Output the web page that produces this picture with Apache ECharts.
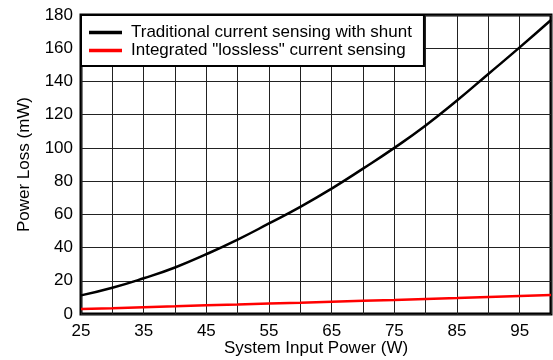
<!DOCTYPE html>
<html>
<head>
<meta charset="utf-8">
<script src="https://cdn.jsdelivr.net/npm/echarts@6/dist/echarts.min.js"></script>
<style>
  html, body { margin: 0; padding: 0; background: #fff; }
  #chart { width: 553px; height: 360px; }
</style>
</head>
<body>
<div id="chart"></div>
<script>
// x = system input power (W), y = power loss (mW)
const inputPower = [25, 30, 35, 40, 45, 50, 55, 60, 65, 70, 75, 80, 85, 90, 95, 100];
const shuntLoss = [11.2, 15.8, 21.5, 28, 36, 44.8, 54.5, 64.5, 75.5, 87.5, 100, 113.5, 128.5, 144.5, 160.5, 177];
const losslessLoss = [3.0, 3.5, 4.1, 4.6, 5.2, 5.7, 6.3, 6.8, 7.4, 8.0, 8.5, 9.1, 9.6, 10.2, 10.8, 11.4];

const FONT = 'Liberation Sans, Arial, sans-serif';
const chart = echarts.init(document.getElementById('chart'));

chart.setOption({
  animation: false,
  textStyle: { fontFamily: FONT },
  grid: {
    left: 81, right: 2, top: 15, bottom: 46,
    outerBoundsMode: 'none',
    show: true, borderColor: '#000', borderWidth: 3
  },
  legend: {
    orient: 'vertical',
    left: 81,
    top: 15,
    padding: [9, 12, 7, 8],
    itemGap: 1,
    itemWidth: 33,
    itemHeight: 14,
    backgroundColor: '#fff',
    borderColor: '#000',
    borderWidth: 2,
    textStyle: { fontSize: 17, lineHeight: 17, color: '#000', fontFamily: FONT, padding: [0, 0, 0, 4] },
    data: [
      { name: 'Traditional current sensing with shunt', icon: 'path://M0,0L10,0L10,1L0,1Z' },
      { name: 'Integrated "lossless" current sensing', icon: 'path://M0,0L10,0L10,1L0,1Z' }
    ]
  },
  xAxis: {
    type: 'value',
    min: 25,
    max: 100,
    interval: 5,
    name: 'System Input Power (W)',
    nameLocation: 'middle',
    nameGap: 26,
    nameMoveOverlap: false,
    nameTextStyle: { fontSize: 17, color: '#000' },
    axisLine: { show: false },
    axisTick: { show: false },
    axisLabel: {
      fontSize: 17,
      color: '#000',
      margin: 9,
      formatter: v => (v % 10 === 5 ? String(v) : '')
    },
    splitLine: { show: true, lineStyle: { color: '#222', width: 1 } }
  },
  yAxis: {
    type: 'value',
    min: 0,
    max: 180,
    interval: 20,
    name: 'Power Loss (mW)',
    nameLocation: 'middle',
    nameGap: 48,
    nameMoveOverlap: false,
    nameTextStyle: { fontSize: 17, color: '#000' },
    axisLine: { show: false },
    axisTick: { show: false },
    axisLabel: { fontSize: 17, color: '#000', margin: 8 },
    splitLine: { show: true, lineStyle: { color: '#222', width: 1 } }
  },
  series: [
    {
      name: 'Traditional current sensing with shunt',
      type: 'line',
      data: inputPower.map((x, i) => [x, shuntLoss[i]]),
      smooth: true,
      showSymbol: false,
      lineStyle: { color: '#000', width: 2.5 },
      itemStyle: { color: '#000' }
    },
    {
      name: 'Integrated "lossless" current sensing',
      type: 'line',
      data: inputPower.map((x, i) => [x, losslessLoss[i]]),
      showSymbol: false,
      lineStyle: { color: '#ff0000', width: 2.5 },
      itemStyle: { color: '#ff0000' }
    }
  ]
});
</script>
</body>
</html>
